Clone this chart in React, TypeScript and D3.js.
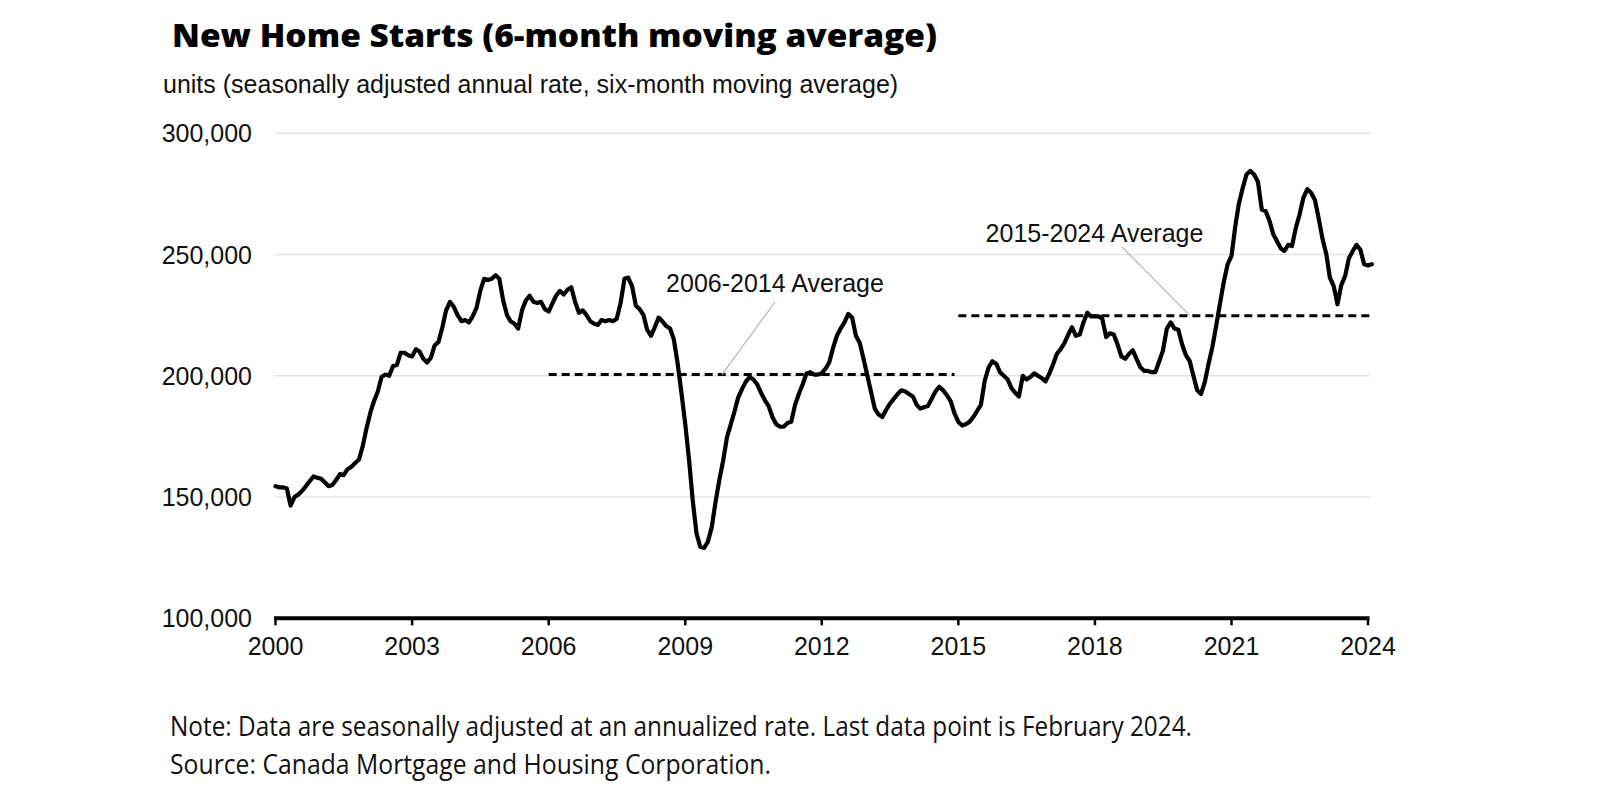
import React from "react";
import * as d3 from "d3";

// Monthly values (units, SAAR, 6-month moving average), Jan 2000 – Feb 2024, in thousands
const startsThousands: number[] = [
  // 2000
  154.5, 154, 154, 153.5, 146.5, 150, 151, 152.5, 154.5, 156.5, 158.5, 158,
  // 2001
  157.5, 156, 154.5, 155, 157, 159.5, 159, 161.5, 162.5, 164, 165.5, 171,
  // 2002
  178.5, 185, 189.5, 193.5, 199.5, 200.5, 200, 204, 204.5, 209.5, 209.5, 208.5,
  // 2003
  208, 211, 210, 207, 205.5, 207.5, 212.5, 214, 220, 227, 230.5, 228.5,
  // 2004
  225, 222.5, 223, 222, 224.5, 228, 235, 240, 239.5, 240, 241.5, 240,
  // 2005
  231, 225, 222.5, 221.5, 219.5, 227, 231, 233, 230.5, 230, 230.5, 227.5,
  // 2006
  226.5, 230, 233, 235, 233.5, 235.5, 236.5, 230.5, 226, 227, 225, 222.5,
  // 2007
  221.5, 221, 223, 222.5, 223, 222.5, 223.5, 230, 240, 240.5, 237, 229,
  // 2008
  227.5, 225, 219, 216.5, 220, 224, 222.5, 220.5, 219.5, 215, 205, 193,
  // 2009
  180, 165, 149, 135, 129.5, 129, 131.5, 137.5, 148, 157, 165, 174.5,
  // 2010
  180, 185.5, 191, 194.5, 197.5, 199.5, 198.5, 196.5, 193, 190, 187.5, 183,
  // 2011
  180, 179, 179, 180.5, 181, 188, 192.5, 196.5, 201, 201.5, 200.5, 200.5,
  // 2012
  201, 203, 205.5, 211.5, 216.5, 219.5, 222, 225.5, 224, 216.5, 213.5, 207,
  // 2013
  200, 193, 186.5, 184, 183, 186, 188.5, 190.5, 192.5, 194, 193.5, 192.5,
  // 2014
  191.5, 188, 186.5, 187, 187.5, 190.5, 193.5, 195.5, 194, 192, 189.5, 184.5,
  // 2015
  181, 179.5, 180, 181, 183, 185.5, 188, 198, 203.5, 206, 205, 201.5,
  // 2016
  200, 198.5, 195, 193, 191.5, 200, 198.5, 199.5, 201, 200, 199, 197.7,
  // 2017
  201, 205, 209, 211, 213.5, 217, 220, 216.5, 217, 222, 226, 224.5,
  // 2018
  224.5, 224.5, 223.5, 216, 217.5, 217, 213, 208, 207, 209, 210.5, 207,
  // 2019
  203.5, 202, 202, 201.5, 201.5, 206, 210.5, 219.5, 222, 219.5, 219, 213,
  // 2020
  208.5, 206, 200, 194, 192.5, 197.5, 205, 212, 221, 230, 239, 246,
  // 2021
  249.5, 262, 271, 277.5, 283, 284.5, 283, 280, 268.5, 268, 264, 258.5,
  // 2022
  255.5, 252.5, 251.5, 254, 253.5, 261, 266.5, 273.5, 277, 275.5, 272.5, 265,
  // 2023
  256.5, 250, 240.5, 237, 229.5, 237.5, 241, 248.5, 251.5, 254, 252, 246,
  // 2024
  245.5, 246,
];

const firstMonth = new Date(2000, 0, 1);
const months: Date[] = d3.timeMonth.range(firstMonth, new Date(2024, 2, 1));

// Period averages
const averagePeriods = [
  { label: "2006-2014 Average", from: new Date(2006, 0, 1), to: new Date(2014, 11, 1), value: 200500 },
  { label: "2015-2024 Average", from: new Date(2015, 0, 1), to: new Date(2024, 1, 1), value: 224800 },
];

const yTicks = [100000, 150000, 200000, 250000, 300000];
const xTickYears = [2000, 2003, 2006, 2009, 2012, 2015, 2018, 2021, 2024];

const title = "New Home Starts (6-month moving average)";
const subtitle = "units (seasonally adjusted annual rate, six-month moving average)";
const noteText = "Note: Data are seasonally adjusted at an annualized rate. Last data point is February 2024.";
const sourceText = "Source: Canada Mortgage and Housing Corporation.";

export default function App() {
  const W = 1600;
  const H = 800;
  const x = d3
    .scaleTime()
    .domain([new Date(2000, 0, 1), new Date(2024, 0, 1)])
    .range([275.5, 1368]);
  const y = d3.scaleLinear().domain([100000, 300000]).range([618.3, 133.3]);

  const data = months.map((d, i) => ({ date: d, value: startsThousands[i] * 1000 }));
  const line = d3
    .line<{ date: Date; value: number }>()
    .x((d) => x(d.date))
    .y((d) => y(d.value));

  const fmt = d3.format(",");
  const arial = "'Liberation Sans', Arial, sans-serif";
  const segoe = "'Open Sans', 'Noto Sans', sans-serif";

  const gridX0 = 275;
  const gridX1 = 1370;

  return (
    <svg
      width={W}
      height={H}
      viewBox={`0 0 ${W} ${H}`}
      style={{ position: "absolute", left: 0, top: 0, display: "block", background: "#ffffff" }}
    >
      <rect x={0} y={0} width={W} height={H} fill="#ffffff" />
      {/* Title */}
      <text
        x={172}
        y={46.5}
        fontFamily={segoe}
        fontWeight={800}
        fontSize={32}
        fill="#000"
        textLength={765}
        lengthAdjust="spacingAndGlyphs"
      >
        {title}
      </text>
      <text x={163} y={92.5} fontFamily={arial} fontSize={25} fill="#111">
        {subtitle}
      </text>

      {/* Gridlines */}
      {yTicks
        .filter((t) => t > 100000)
        .map((t) => (
          <line key={t} x1={gridX0} x2={gridX1} y1={y(t)} y2={y(t)} stroke="#e3e3e3" strokeWidth={1.5} />
        ))}

      {/* Y labels */}
      {yTicks.map((t) => (
        <text
          key={t}
          x={252}
          y={y(t) + 9}
          textAnchor="end"
          fontFamily={arial}
          fontSize={25}
          fill="#111"
        >
          {fmt(t)}
        </text>
      ))}

      {/* X axis */}
      <line x1={x(new Date(2000, 0, 1)) - 1.5} x2={x(new Date(2024, 0, 1)) + 1.5} y1={y(100000)} y2={y(100000)} stroke="#000" strokeWidth={4} />
      {xTickYears.map((yr) => {
        const xx = x(new Date(yr, 0, 1));
        return (
          <g key={yr}>
            <line x1={xx} x2={xx} y1={y(100000)} y2={y(100000) + 7} stroke="#000" strokeWidth={2.5} />
            <text x={xx} y={655} textAnchor="middle" fontFamily={arial} fontSize={25} fill="#111">
              {yr}
            </text>
          </g>
        );
      })}

      {/* Average lines */}
      {averagePeriods.map((p) => (
        <line
          key={p.label}
          x1={x(p.from)}
          x2={x(p.to)}
          y1={y(p.value)}
          y2={y(p.value)}
          stroke="#000"
          strokeWidth={3}
          strokeDasharray="8,5"
        />
      ))}

      {/* Data line */}
      <path d={line(data) || ""} fill="none" stroke="#000" strokeWidth={4.2} strokeLinejoin="round" strokeLinecap="round" />

      {/* Annotations */}
      <line x1={775} y1={302} x2={722} y2={y(averagePeriods[0].value)} stroke="#b5b5b5" strokeWidth={1.2} />
      <text x={775} y={291.5} textAnchor="middle" fontFamily={arial} fontSize={25} fill="#111">
        {averagePeriods[0].label}
      </text>
      <line x1={1122} y1={247} x2={1190} y2={y(averagePeriods[1].value)} stroke="#b5b5b5" strokeWidth={1.2} />
      <text x={1094.5} y={242} textAnchor="middle" fontFamily={arial} fontSize={25} fill="#111">
        {averagePeriods[1].label}
      </text>

      {/* Notes */}
      <text
        x={170}
        y={735.5}
        fontFamily={segoe}
        fontSize={27}
        fill="#111"
        textLength={1022}
        lengthAdjust="spacingAndGlyphs"
      >
        {noteText}
      </text>
      <text
        x={170}
        y={773.5}
        fontFamily={segoe}
        fontSize={27}
        fill="#111"
        textLength={601}
        lengthAdjust="spacingAndGlyphs"
      >
        {sourceText}
      </text>
    </svg>
  );
}
